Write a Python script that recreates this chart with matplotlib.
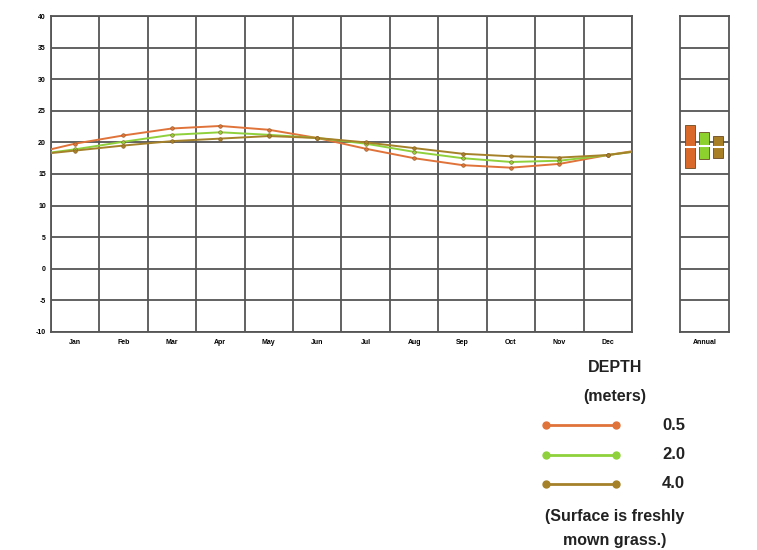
import matplotlib.pyplot as plt
from matplotlib.lines import Line2D

months = ['Jan', 'Feb', 'Mar', 'Apr', 'May', 'Jun', 'Jul', 'Aug', 'Sep', 'Oct', 'Nov', 'Dec']
depths = ['0.5', '2.0', '4.0']
colors = ['#e0733a', '#8fd13c', '#a5812a']
bar_colors = ['#d9692a', '#8cd12e', '#a87f24']

# monthly values (mid-month), plus values at the year's start / end edges
temps = {
    '0.5': [19.8, 21.1, 22.2, 22.6, 22.0, 20.7, 19.0, 17.5, 16.4, 16.0, 16.6, 18.0],
    '2.0': [18.9, 20.1, 21.2, 21.6, 21.2, 20.7, 19.8, 18.5, 17.5, 16.9, 17.1, 18.0],
    '4.0': [18.7, 19.5, 20.2, 20.6, 21.0, 20.7, 20.0, 19.1, 18.2, 17.8, 17.6, 18.0],
}
edge_start = {'0.5': 18.9, '2.0': 18.4, '4.0': 18.3}
edge_end = {'0.5': 18.6, '2.0': 18.5, '4.0': 18.5}

# annual min / max / mean
annual_min = [16.0, 17.3, 17.6]
annual_max = [22.7, 21.7, 21.0]
annual_mean = [19.3, 19.4, 19.3]

plt.rcParams['font.family'] = ['Liberation Sans', 'DejaVu Sans']
plt.rcParams['axes.unicode_minus'] = False
grid_c = '#555555'

fig = plt.figure(figsize=(7.57, 5.5), dpi=100)
ax = fig.add_axes([0.067, 0.3964, 0.768, 0.5745])
ax2 = fig.add_axes([0.8983, 0.3964, 0.0647, 0.5745])

for a in (ax, ax2):
    a.set_ylim(-10, 40)
    a.set_yticks(range(-10, 41, 5))
    a.grid(axis='y', color=grid_c, lw=1.3)
    a.set_axisbelow(True)
    for s in a.spines.values():
        s.set_color(grid_c)
        s.set_linewidth(1.3)
    a.tick_params(length=0, labelsize=5)

ax.set_xlim(0, 12)
ax.set_xticks(range(0, 13))
ax.set_xticklabels([])
ax.grid(axis='x', color=grid_c, lw=1.3)
ax.set_xticks([i + 0.5 for i in range(12)], minor=True)
ax.set_xticklabels(months, minor=True, fontsize=5, fontweight='bold')
ax.tick_params(which='minor', length=0, pad=5)
for lab in ax.get_yticklabels():
    lab.set_fontweight('bold')

xm = [i + 0.5 for i in range(12)]
for d, c in zip(depths, colors):
    xs = [0] + xm + [12]
    ys = [edge_start[d]] + temps[d] + [edge_end[d]]
    ax.plot(xs, ys, color=c, lw=1.4, zorder=3)
    ax.plot(xm, temps[d], 'o', color=c, ms=2.6, mec='#8a5a20', mew=0.4, zorder=4)

ax2.set_xlim(0, 1)
ax2.set_xticks([0.5])
ax2.set_xticklabels(['Annual'], fontsize=5, fontweight='bold')
ax2.tick_params(pad=5)
ax2.set_yticklabels([])
bx = [0.2, 0.49, 0.78]
for x, lo, hi, m, c in zip(bx, annual_min, annual_max, annual_mean, bar_colors):
    ax2.bar(x, hi - lo, bottom=lo, width=0.2, color=c, edgecolor='#6a4a20', lw=0.6, zorder=3)
    ax2.plot([x - 0.1, x + 0.1], [m, m], color='white', lw=1.5, zorder=4)

# legend block
cx = 615 / 757
fs = 11.5
fig.text(cx, 1 - 367 / 550, 'DEPTH', ha='center', va='center', fontsize=fs, fontweight='bold', color='#222222')
fig.text(cx, 1 - 396 / 550, '(meters)', ha='center', va='center', fontsize=fs, fontweight='bold', color='#222222')
for i, (d, c) in enumerate(zip(depths, colors)):
    y = 1 - (425 + 29.5 * i) / 550
    fig.add_artist(Line2D([546 / 757, 616 / 757], [y, y], color=c, lw=2,
                          marker='o', ms=5, markevery=[0, 1]))
    fig.text(662 / 757, y, d, ha='left', va='center', fontsize=12, fontweight='bold', color='#222222')
fig.text(cx, 1 - 517 / 550, '(Surface is freshly', ha='center', va='center', fontsize=fs, fontweight='bold', color='#222222')
fig.text(cx, 1 - 541 / 550, 'mown grass.)', ha='center', va='center', fontsize=fs, fontweight='bold', color='#222222')

fig.savefig('out.png', dpi=100)
